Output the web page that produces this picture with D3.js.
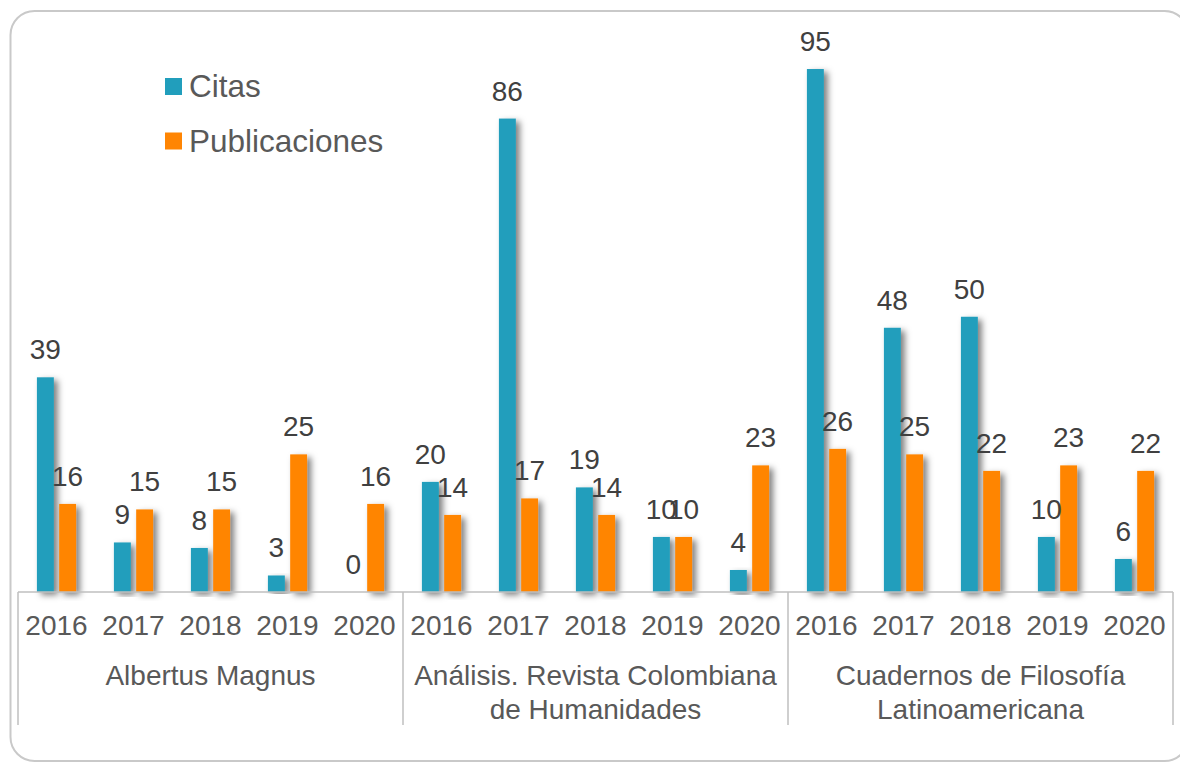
<!DOCTYPE html>
<html>
<head>
<meta charset="utf-8">
<script src="https://cdn.jsdelivr.net/npm/d3@7"></script>
<style>
  body { margin: 0; background: #fff; }
  svg { display: block; font-family: "Liberation Sans", Arial, sans-serif; }
</style>
</head>
<body>
<svg id="chart"></svg>
<script>
// data
const journals = [
  "Albertus Magnus",
  "Análisis. Revista Colombiana de Humanidades",
  "Cuadernos de Filosofía Latinoamericana"
];
const years = ["2016", "2017", "2018", "2019", "2020"];
const seriesNames = ["Citas", "Publicaciones"];
const citas = [39, 9, 8, 3, 0, 20, 86, 19, 10, 4, 95, 48, 50, 10, 6];
const publicaciones = [16, 15, 15, 25, 16, 14, 17, 14, 10, 23, 26, 25, 22, 23, 22];
const colors = ["#219EBC", "#FF8503"];

const width = 1180;
const height = 762;
const margin = { top: 41.5, right: 7, bottom: 170, left: 18 };

const svg = d3.select("#chart")
  .attr("width", width)
  .attr("height", height);

// frame
svg.append("rect")
  .attr("x", 10.5)
  .attr("y", 11)
  .attr("width", 1178)
  .attr("height", 750)
  .attr("rx", 24)
  .attr("fill", "none")
  .attr("stroke", "#C9C9C9")
  .attr("stroke-width", 2);

const defs = svg.append("defs");
defs.append("filter")
  .attr("id", "shadow")
  .attr("x", "-50%").attr("y", "-10%")
  .attr("width", "250%").attr("height", "120%")
  .append("feDropShadow")
  .attr("dx", 4)
  .attr("dy", 3)
  .attr("stdDeviation", 3)
  .attr("flood-color", "#000")
  .attr("flood-opacity", 0.5);

const categories = d3.range(journals.length * years.length);
const baseY = height - margin.bottom;

const x0 = d3.scaleBand()
  .domain(categories)
  .range([margin.left, width - margin.right])
  .padding(0);

const x1 = d3.scaleBand()
  .domain(seriesNames)
  .range([0, x0.bandwidth()])
  .paddingInner(0.24)
  .paddingOuter(0.85);

const y = d3.scaleLinear()
  .domain([0, 100])
  .range([baseY, margin.top]);

const rows = categories.map((i) => ({
  i,
  values: [
    { key: "Citas", value: citas[i] },
    { key: "Publicaciones", value: publicaciones[i] }
  ]
}));

const groups = svg.append("g")
  .selectAll("g")
  .data(rows)
  .join("g")
  .attr("transform", (d) => `translate(${x0(d.i)},0)`);

groups.selectAll("rect")
  .data((d) => d.values.filter((v) => v.value > 0))
  .join("rect")
  .attr("x", (d) => x1(d.key))
  .attr("y", (d) => y(d.value))
  .attr("width", x1.bandwidth())
  .attr("height", (d) => baseY - y(d.value))
  .attr("fill", (d) => colors[seriesNames.indexOf(d.key)])
  .attr("filter", "url(#shadow)");

groups.selectAll("text")
  .data((d) => d.values)
  .join("text")
  .attr("x", (d) => x1(d.key) + x1.bandwidth() / 2)
  .attr("y", (d) => y(d.value) - 18)
  .attr("text-anchor", "middle")
  .attr("font-size", 28)
  .attr("fill", "#404040")
  .text((d) => d.value);

// axis
const axis = svg.append("g");
axis.append("line")
  .attr("x1", margin.left)
  .attr("x2", width - margin.right)
  .attr("y1", baseY)
  .attr("y2", baseY)
  .attr("stroke", "#BFBFBF")
  .attr("stroke-width", 1.5);

const sepX = d3.range(journals.length + 1).map((g) =>
  g < journals.length ? x0(g * years.length) : x0(categories.length - 1) + x0.bandwidth()
);
axis.selectAll(".sep")
  .data(sepX)
  .join("line")
  .attr("class", "sep")
  .attr("x1", (d) => d)
  .attr("x2", (d) => d)
  .attr("y1", baseY)
  .attr("y2", 725)
  .attr("stroke", "#BFBFBF")
  .attr("stroke-width", 1.5);

axis.selectAll(".year")
  .data(categories)
  .join("text")
  .attr("class", "year")
  .attr("x", (d) => x0(d) + x0.bandwidth() / 2)
  .attr("y", 635)
  .attr("text-anchor", "middle")
  .attr("font-size", 28)
  .attr("fill", "#595959")
  .text((d) => years[d % years.length]);

const groupLabels = axis.selectAll(".journal")
  .data(journals)
  .join("text")
  .attr("class", "journal")
  .attr("text-anchor", "middle")
  .attr("font-size", 28)
  .attr("fill", "#595959");

groupLabels.each(function (name, g) {
  const el = d3.select(this);
  const cx = (sepX[g] + sepX[g + 1]) / 2;
  const maxW = sepX[g + 1] - sepX[g] - 12;
  const words = name.split(" ");
  const lines = [];
  let line = [];
  const probe = el.append("tspan");
  words.forEach((w) => {
    const test = line.concat(w).join(" ");
    probe.text(test);
    if (probe.node().getComputedTextLength() > maxW && line.length) {
      lines.push(line.join(" "));
      line = [w];
    } else {
      line.push(w);
    }
  });
  lines.push(line.join(" "));
  probe.remove();
  lines.forEach((t, k) => {
    el.append("tspan")
      .attr("x", cx)
      .attr("y", 685 + k * 33.5)
      .text(t);
  });
});

// legend
const legend = svg.append("g")
  .selectAll("g")
  .data(seriesNames)
  .join("g")
  .attr("transform", (d, i) => `translate(165,${78 + i * 54.5})`);

legend.append("rect")
  .attr("width", 17)
  .attr("height", 17)
  .attr("fill", (d, i) => colors[i]);

legend.append("text")
  .attr("x", 24)
  .attr("y", 19)
  .attr("font-size", 31.5)
  .attr("fill", "#595959")
  .text((d) => d);
</script>
</body>
</html>
